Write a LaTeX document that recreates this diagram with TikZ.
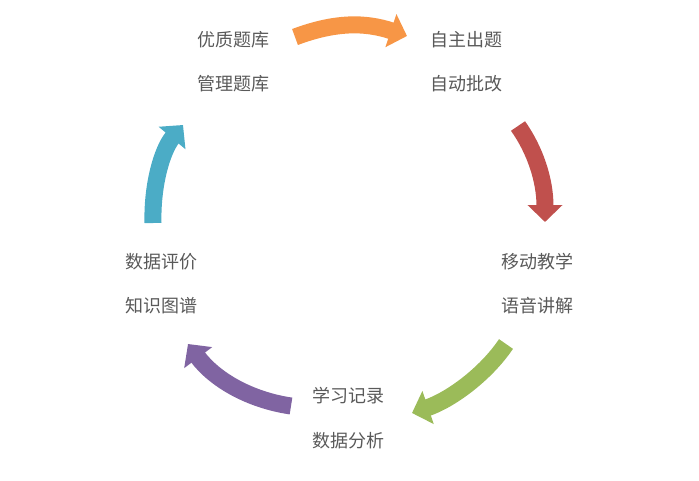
\documentclass[tikz,border=0pt]{standalone}
\usepackage{fontspec}
\newfontfamily\cjk{Noto Sans CJK SC}
\usetikzlibrary{arrows.meta}
\definecolor{txt}{HTML}{595959}
\definecolor{cO}{HTML}{F79646}
\definecolor{cR}{HTML}{C0504D}
\definecolor{cG}{HTML}{9BBB59}
\definecolor{cP}{HTML}{8064A2}
\definecolor{cT}{HTML}{4BACC6}
\begin{document}
\begin{tikzpicture}[x=1pt,y=-1pt,
  lbl/.style={font=\cjk\fontsize{18}{22}\selectfont,text=txt,inner sep=0pt},
  arr/.style={line width=17pt,-{Triangle[width=34pt,length=17pt]}}]
\useasboundingbox (0,0) rectangle (699,480);
\node[lbl] (a1) at (233,40) {优质题库};
\node[lbl] (a2) at (233,84) {管理题库};
\node[lbl] (b1) at (466,40) {自主出题};
\node[lbl] (b2) at (466,84) {自动批改};
\node[lbl] (c1) at (537,262) {移动教学};
\node[lbl] (c2) at (537,306) {语音讲解};
\node[lbl] (d1) at (348,396) {学习记录};
\node[lbl] (d2) at (348,441) {数据分析};
\node[lbl] (e1) at (161,262) {数据评价};
\node[lbl] (e2) at (161,306) {知识图谱};
\coordinate (o1) at (295,37); \coordinate (o2) at (407,36);
\coordinate (r1) at (518,126); \coordinate (r2) at (545,222);
\coordinate (g1) at (506,344); \coordinate (g2) at (412,413);
\coordinate (p1) at (291,406); \coordinate (p2) at (188,344);
\coordinate (t1) at (153,223); \coordinate (t2) at (183,125);
\draw[arr,cO] (o1) .. controls (335,22) and (365,22) .. (o2);
\draw[arr,cR] (r1) .. controls (535,150) and (545,180) .. (r2);
\draw[arr,cG] (g1) .. controls (485,375) and (450,400) .. (g2);
\draw[arr,cP] (p1) .. controls (250,400) and (215,380) .. (p2);
\draw[arr,cT] (t1) .. controls (152,185) and (162,150) .. (t2);
\end{tikzpicture}
\end{document}
